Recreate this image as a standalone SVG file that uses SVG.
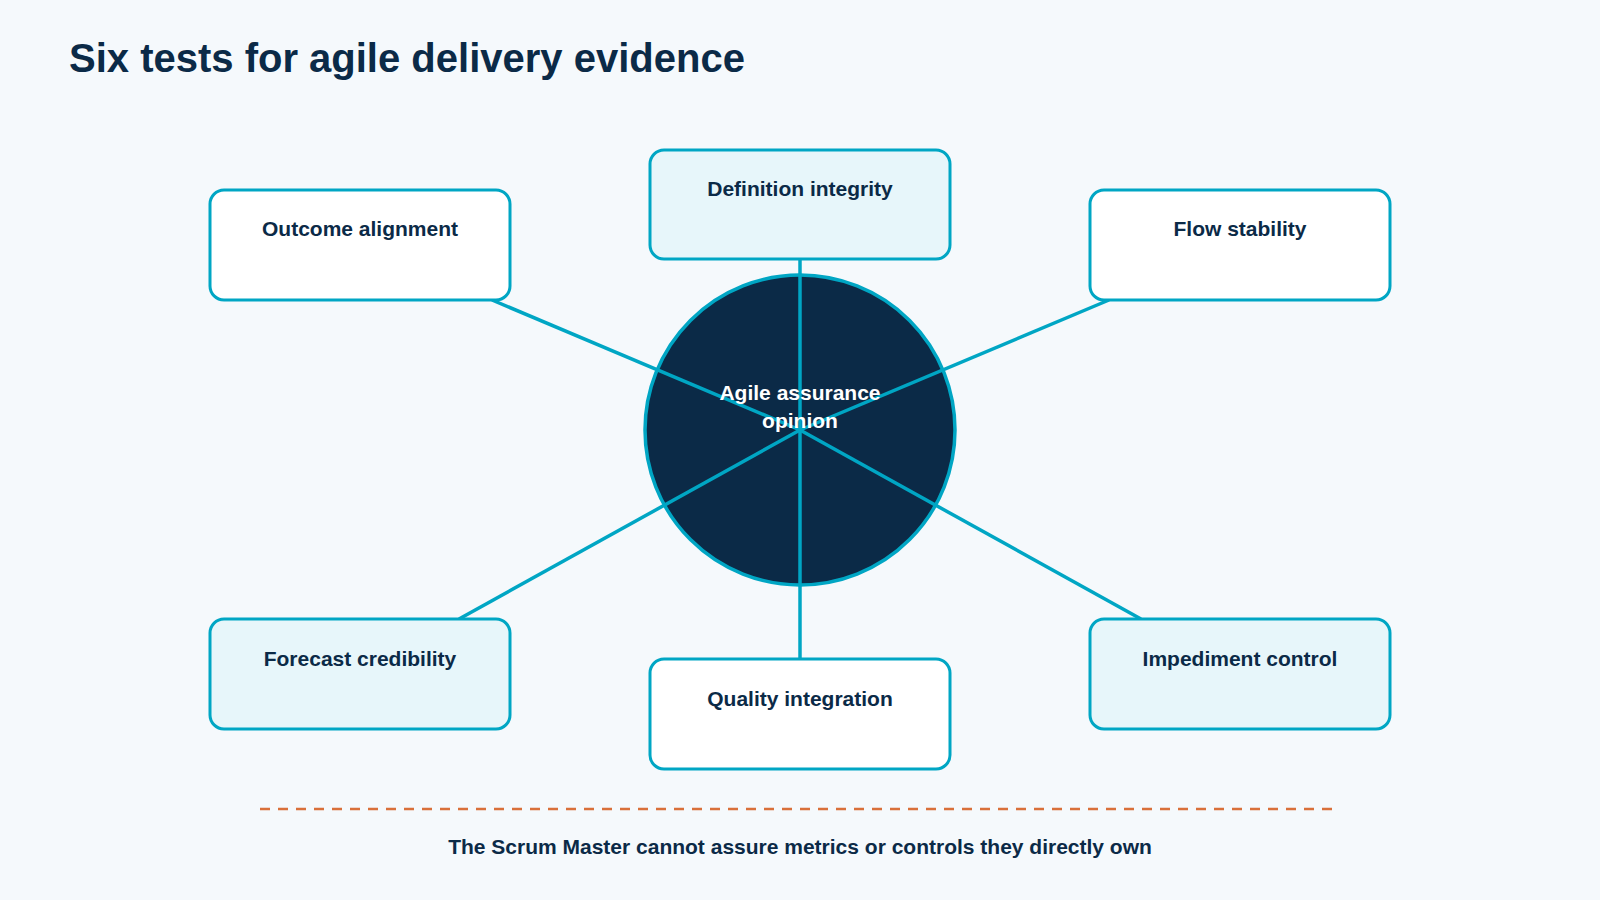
<svg xmlns="http://www.w3.org/2000/svg" width="1600" height="900" viewBox="0 0 1600 900">
<style>
.box{stroke:#00a6c4;stroke-width:3}
.w{fill:#ffffff}.t{fill:#e7f6fa}
.lbl{font-family:"Liberation Sans",Arial,sans-serif;font-weight:bold;font-size:21px;fill:#0b2a47;text-anchor:middle}
.con{stroke:#00a6c4;stroke-width:3.5;fill:none}
</style>
<rect width="1600" height="900" fill="#f5f9fc"/>
<text x="69" y="72" font-family="Liberation Sans,Arial,sans-serif" font-weight="bold" font-size="40" fill="#0b2a47">Six tests for agile delivery evidence</text>
<g id="hub"><circle cx="800" cy="430" r="155" fill="#0b2a47" stroke="#00a6c4" stroke-width="3.5"/></g>
<g id="connectors">
<line class="con" x1="800" y1="430" x2="800" y2="259"/>
<line class="con" x1="800" y1="430" x2="492" y2="300"/>
<line class="con" x1="800" y1="430" x2="1109" y2="300"/>
<line class="con" x1="800" y1="430" x2="459" y2="619"/>
<line class="con" x1="800" y1="430" x2="1141" y2="619"/>
<line class="con" x1="800" y1="430" x2="800" y2="659"/>
</g>
<text x="800" y="400" class="lbl" style="fill:#ffffff">Agile assurance</text>
<text x="800" y="428" class="lbl" style="fill:#ffffff">opinion</text>
<g id="definition"><rect class="box t" x="650" y="150" width="300" height="109" rx="14"/><text class="lbl" x="800" y="196">Definition integrity</text></g>
<g id="outcome"><rect class="box w" x="210" y="190" width="300" height="110" rx="14"/><text class="lbl" x="360" y="236">Outcome alignment</text></g>
<g id="flow"><rect class="box w" x="1090" y="190" width="300" height="110" rx="14"/><text class="lbl" x="1240" y="236">Flow stability</text></g>
<g id="forecast"><rect class="box t" x="210" y="619" width="300" height="110" rx="14"/><text class="lbl" x="360" y="666">Forecast credibility</text></g>
<g id="quality"><rect class="box w" x="650" y="659" width="300" height="110" rx="14"/><text class="lbl" x="800" y="706">Quality integration</text></g>
<g id="impediment"><rect class="box t" x="1090" y="619" width="300" height="110" rx="14"/><text class="lbl" x="1240" y="666">Impediment control</text></g>
<line x1="260" y1="809" x2="1340" y2="809" stroke="#d9703a" stroke-width="2.5" stroke-dasharray="10 8"/>
<text class="lbl" x="800" y="854">The Scrum Master cannot assure metrics or controls they directly own</text>
</svg>
